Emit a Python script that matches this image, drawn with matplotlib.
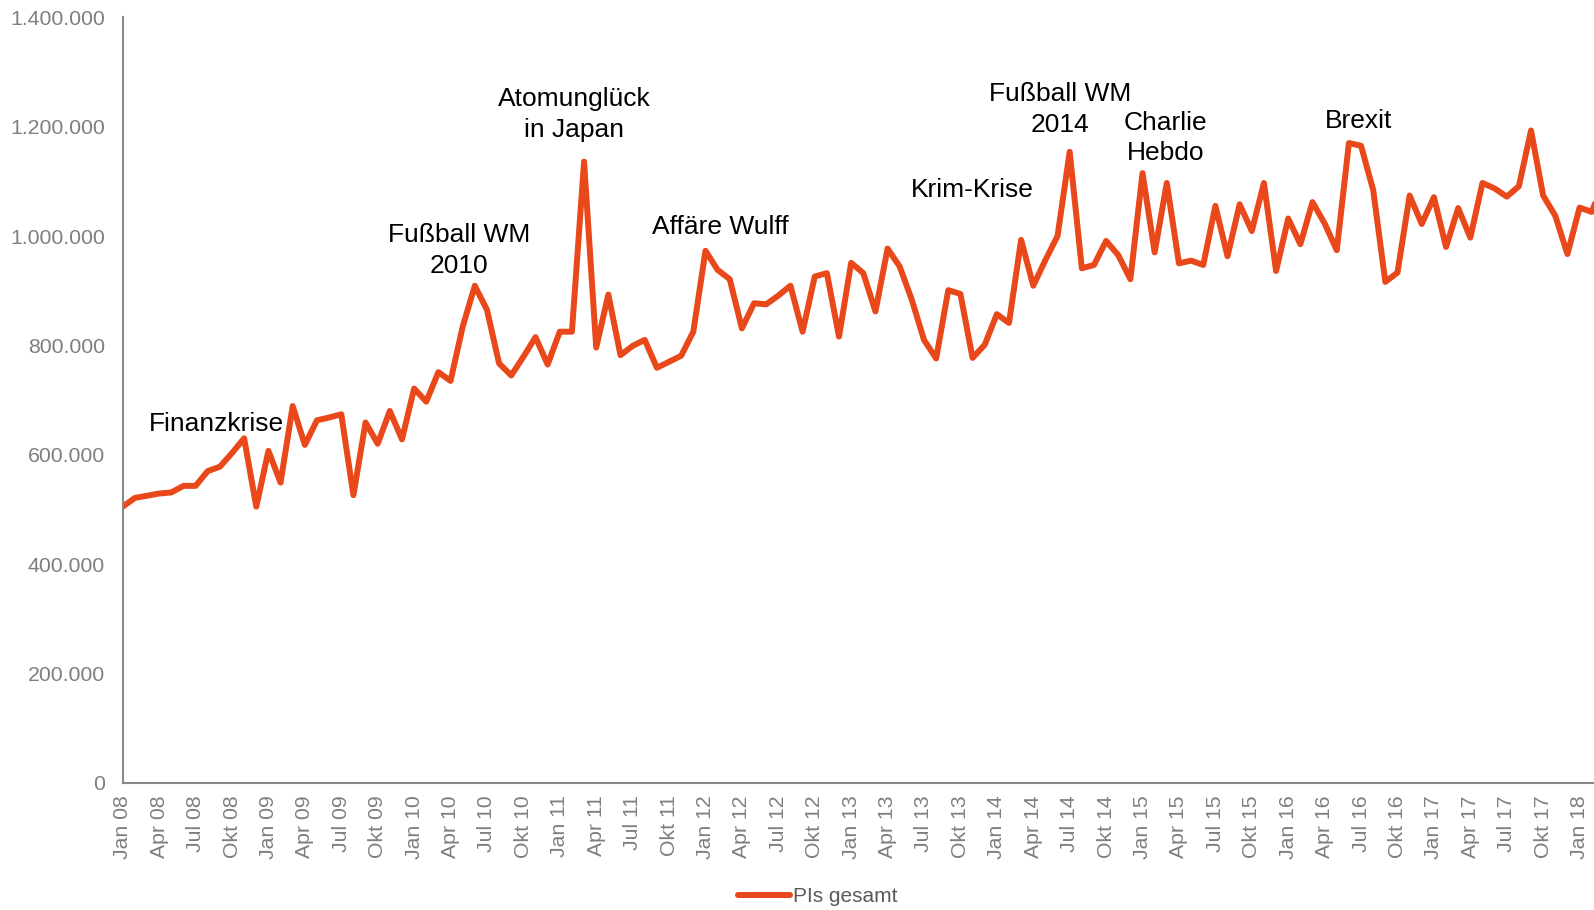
import matplotlib
matplotlib.use("Agg")
import matplotlib.pyplot as plt
import matplotlib.ticker as ticker
import numpy as np

# ── Data: monthly page impressions, Jan 2008 onwards (in millions) ───────────
pis_mio = [
    0.505, 0.521, 0.525, 0.529, 0.531, 0.543, 0.543, 0.570, 0.578, 0.603, 0.630, 0.505,
    0.607, 0.549, 0.689, 0.618, 0.663, 0.668, 0.674, 0.526, 0.659, 0.620, 0.680, 0.628,
    0.721, 0.697, 0.751, 0.735, 0.834, 0.909, 0.865, 0.767, 0.745, 0.779, 0.815, 0.765,
    0.825, 0.825, 1.136, 0.796, 0.893, 0.782, 0.799, 0.810, 0.759, 0.770, 0.781, 0.825,
    0.973, 0.938, 0.921, 0.831, 0.877, 0.875, 0.891, 0.909, 0.825, 0.926, 0.932, 0.816,
    0.951, 0.932, 0.862, 0.977, 0.944, 0.883, 0.810, 0.776, 0.901, 0.894, 0.777, 0.801,
    0.857, 0.841, 0.993, 0.909, 0.956, 1.000, 1.154, 0.941, 0.947, 0.991, 0.965, 0.921,
    1.115, 0.970, 1.097, 0.950, 0.955, 0.947, 1.055, 0.963, 1.058, 1.009, 1.097, 0.936,
    1.032, 0.985, 1.062, 1.023, 0.974, 1.170, 1.165, 1.084, 0.916, 0.933, 1.074, 1.022,
    1.071, 0.980, 1.051, 0.997, 1.097, 1.087, 1.072, 1.091, 1.193, 1.074, 1.037, 0.967,
    1.052, 1.044, 1.100,
]
pis = np.array(pis_mio) * 1_000_000
months = np.arange(len(pis))

# quarterly tick labels, Jan 08 .. Jan 18
tick_pos = np.arange(0, 121, 3)
tick_labels = [f"{m} {y:02d}" for y in range(8, 19)
               for m in ("Jan", "Apr", "Jul", "Okt")][:len(tick_pos)]

y_ticks = [0, 200_000, 400_000, 600_000, 800_000, 1_000_000, 1_200_000, 1_400_000]

# events: (label, month index, y position)
event_labels = ["Finanzkrise", "Fußball WM\n2010", "Atomunglück\nin Japan",
                "Affäre Wulff", "Krim-Krise", "Fußball WM\n2014",
                "Charlie\nHebdo", "Brexit"]
event_x = [7.7, 27.7, 37.2, 49.2, 70.0, 77.2, 85.9, 101.8]
event_y = [656_000, 973_000, 1_222_000, 1_017_000, 1_084_000, 1_231_000,
           1_179_000, 1_210_000]

# ── Style ────────────────────────────────────────────────────────────────────
LINE_COLOR = "#E8481A"
AXIS_COLOR = "#888888"
TICK_COLOR = "#7f7f7f"
plt.rcParams["font.family"] = ["Liberation Sans", "DejaVu Sans"]

fig = plt.figure(figsize=(15.94, 9.10), dpi=100)
# axes run past the right edge of the canvas
ax = fig.add_axes([0.077, 0.1398, 0.9368, 0.8412])

ax.plot(months, pis, color=LINE_COLOR, linewidth=4.3,
        solid_joinstyle="round", solid_capstyle="round")

ax.set_xlim(0, 123)
ax.set_ylim(0, 1_400_000)
ax.set_yticks(y_ticks)
ax.yaxis.set_major_formatter(
    ticker.FuncFormatter(lambda v, _: f"{v:,.0f}".replace(",", ".")))
ax.set_xticks(tick_pos)
ax.set_xticklabels(tick_labels, rotation=90)

ax.tick_params(axis="both", length=0, labelsize=15.3, labelcolor=TICK_COLOR)
ax.tick_params(axis="y", pad=13)
ax.tick_params(axis="x", pad=9)

for side in ("top", "right"):
    ax.spines[side].set_visible(False)
for side in ("left", "bottom"):
    ax.spines[side].set_color(AXIS_COLOR)
    ax.spines[side].set_linewidth(1.5)

for label, x, y in zip(event_labels, event_x, event_y):
    ax.text(x, y, label, ha="center", va="center", multialignment="center",
            fontsize=19, color="black", linespacing=1.35)

handle = plt.Line2D([], [], color=LINE_COLOR, linewidth=4.3, solid_capstyle="round")
fig.legend([handle], ["PIs gesamt"], loc="center", bbox_to_anchor=(0.513, 0.0147),
           frameon=False, fontsize=15, labelcolor="#595959",
           handlelength=2.5, handletextpad=0.1)

fig.savefig("out.png", dpi=100)
